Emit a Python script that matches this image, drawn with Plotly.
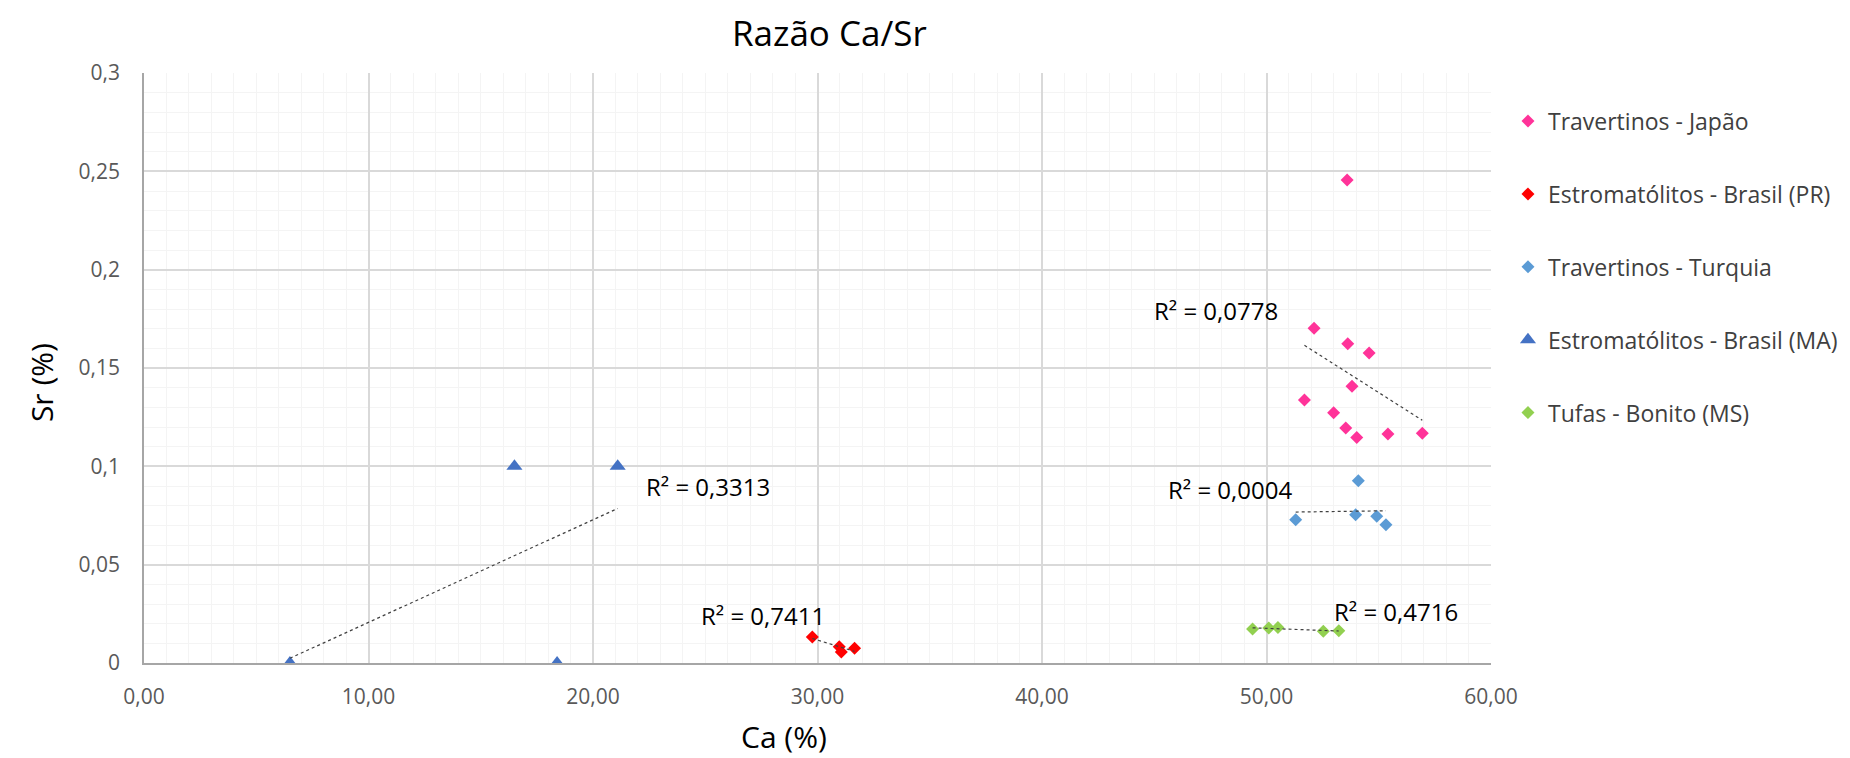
import numpy as np
import plotly.graph_objects as go

# ---------------- data ----------------
jp_ca = [53.59, 52.12, 53.62, 54.57, 53.81, 51.69, 52.99, 53.53, 54.02, 55.41, 56.94]
jp_sr = [0.2456, 0.1702, 0.1623, 0.1576, 0.1407, 0.1337, 0.1273, 0.1195, 0.1147, 0.1164, 0.1168]

pr_ca = [29.77, 30.97, 31.06, 31.65]
pr_sr = [0.0132, 0.0083, 0.0056, 0.0075]

tr_ca = [54.09, 51.30, 53.97, 54.91, 55.32]
tr_sr = [0.0927, 0.0729, 0.0754, 0.0746, 0.0703]

ma_ca = [6.5, 16.5, 18.4, 21.1]
ma_sr = [0.0, 0.1, 0.0, 0.1]

bo_ca = [49.38, 50.10, 50.51, 52.53, 53.22]
bo_sr = [0.0173, 0.0178, 0.0181, 0.0161, 0.0164]

series_names = ["Travertinos - Japão", "Estromatólitos - Brasil (PR)", "Travertinos - Turquia",
                "Estromatólitos - Brasil (MA)", "Tufas - Bonito (MS)"]
r2_labels = ["R² = 0,0778", "R² = 0,7411", "R² = 0,0004", "R² = 0,3313", "R² = 0,4716"]

x_tickvals = [0, 10, 20, 30, 40, 50, 60]
x_ticktext = ["0,00", "10,00", "20,00", "30,00", "40,00", "50,00", "60,00"]
y_tickvals = [0, 0.05, 0.1, 0.15, 0.2, 0.25, 0.3]
y_ticktext = ["0", "0,05", "0,1", "0,15", "0,2", "0,25", "0,3"]

# ---------------- styles ----------------
colors = ["#FF3399", "#FF0000", "#5B9BD5", "#4472C4", "#92D050"]
symbols = ["diamond", "diamond", "diamond", "triangle-up", "diamond"]
sizes = [10, 10, 10, 14, 10]
# annotation positions (data coords) for R² labels
r2_pos = [(47.75, 0.179), (27.57, 0.0244), (48.37, 0.088), (25.12, 0.090), (55.77, 0.0264)]

FONT = "Open Sans"

datasets = [(jp_ca, jp_sr), (pr_ca, pr_sr), (tr_ca, tr_sr), (ma_ca, ma_sr), (bo_ca, bo_sr)]

fig = go.Figure()

for i, (xs, ys) in enumerate(datasets):
    fig.add_trace(go.Scatter(
        x=xs, y=ys, mode="markers", name=series_names[i],
        legendgroup=f"g{i}",
        marker=dict(symbol=symbols[i], size=sizes[i], color=colors[i], line=dict(width=0)),
    ))

for i, (xs, ys) in enumerate(datasets):
    xa = np.array(xs, dtype=float)
    ya = np.array(ys, dtype=float)
    m, b = np.polyfit(xa, ya, 1)
    xl = np.array([xa.min(), xa.max()])
    fig.add_trace(go.Scatter(
        x=xl, y=m * xl + b, mode="lines", showlegend=False, hoverinfo="skip",
        line=dict(color="#404040", width=1.2, dash="dot"),
    ))

for i, lab in enumerate(r2_labels):
    fig.add_annotation(x=r2_pos[i][0], y=r2_pos[i][1], text=lab, showarrow=False,
                       xref="x", yref="y", font=dict(family=FONT, size=24, color="#000000"))

# axis titles as annotations (placed like the reference)
fig.add_annotation(x=0.475, y=-0.1254, xref="paper", yref="paper", text="Ca (%)",
                   showarrow=False, xanchor="center", yanchor="middle",
                   font=dict(family=FONT, size=30, color="#000000"))
fig.add_annotation(x=-0.0765, y=0.476, xref="paper", yref="paper", text="Sr (%)",
                   showarrow=False, xanchor="center", yanchor="middle", textangle=-90,
                   font=dict(family=FONT, size=30, color="#000000"))

fig.update_layout(
    width=1850, height=758,
    paper_bgcolor="white", plot_bgcolor="white",
    margin=dict(l=136, r=367, t=65, b=103),
    font=dict(family=FONT),
    title=dict(text="Razão Ca/Sr", x=0.444, xanchor="center", y=0.966, yanchor="middle",
               font=dict(family=FONT, size=35, color="#000000")),
    legend=dict(x=1.0126, xanchor="left", y=0.955, yanchor="top",
                font=dict(family=FONT, size=23, color="#404040"),
                tracegroupgap=40, traceorder="grouped", bgcolor="rgba(0,0,0,0)"),
    showlegend=True,
)

fig.update_xaxes(
    range=[0, 60], tickvals=x_tickvals, ticktext=x_ticktext,
    showgrid=True, gridcolor="#D9D9D9", gridwidth=1.5,
    minor=dict(dtick=1, showgrid=True, gridcolor="#F4F4F4", gridwidth=1),
    showline=True, linecolor="#A6A6A6", linewidth=1.5, zeroline=False,
    ticks="", ticklabelstandoff=14, tickfont=dict(family=FONT, size=21, color="#595959"),
)
fig.update_yaxes(
    range=[0, 0.3], tickvals=y_tickvals, ticktext=y_ticktext,
    showgrid=True, gridcolor="#D9D9D9", gridwidth=1.5,
    minor=dict(dtick=0.01, showgrid=True, gridcolor="#F4F4F4", gridwidth=1),
    showline=True, linecolor="#A6A6A6", linewidth=1.5, zeroline=False,
    ticks="", ticklabelstandoff=18, tickfont=dict(family=FONT, size=21, color="#595959"),
)

fig.write_html("out.html")
